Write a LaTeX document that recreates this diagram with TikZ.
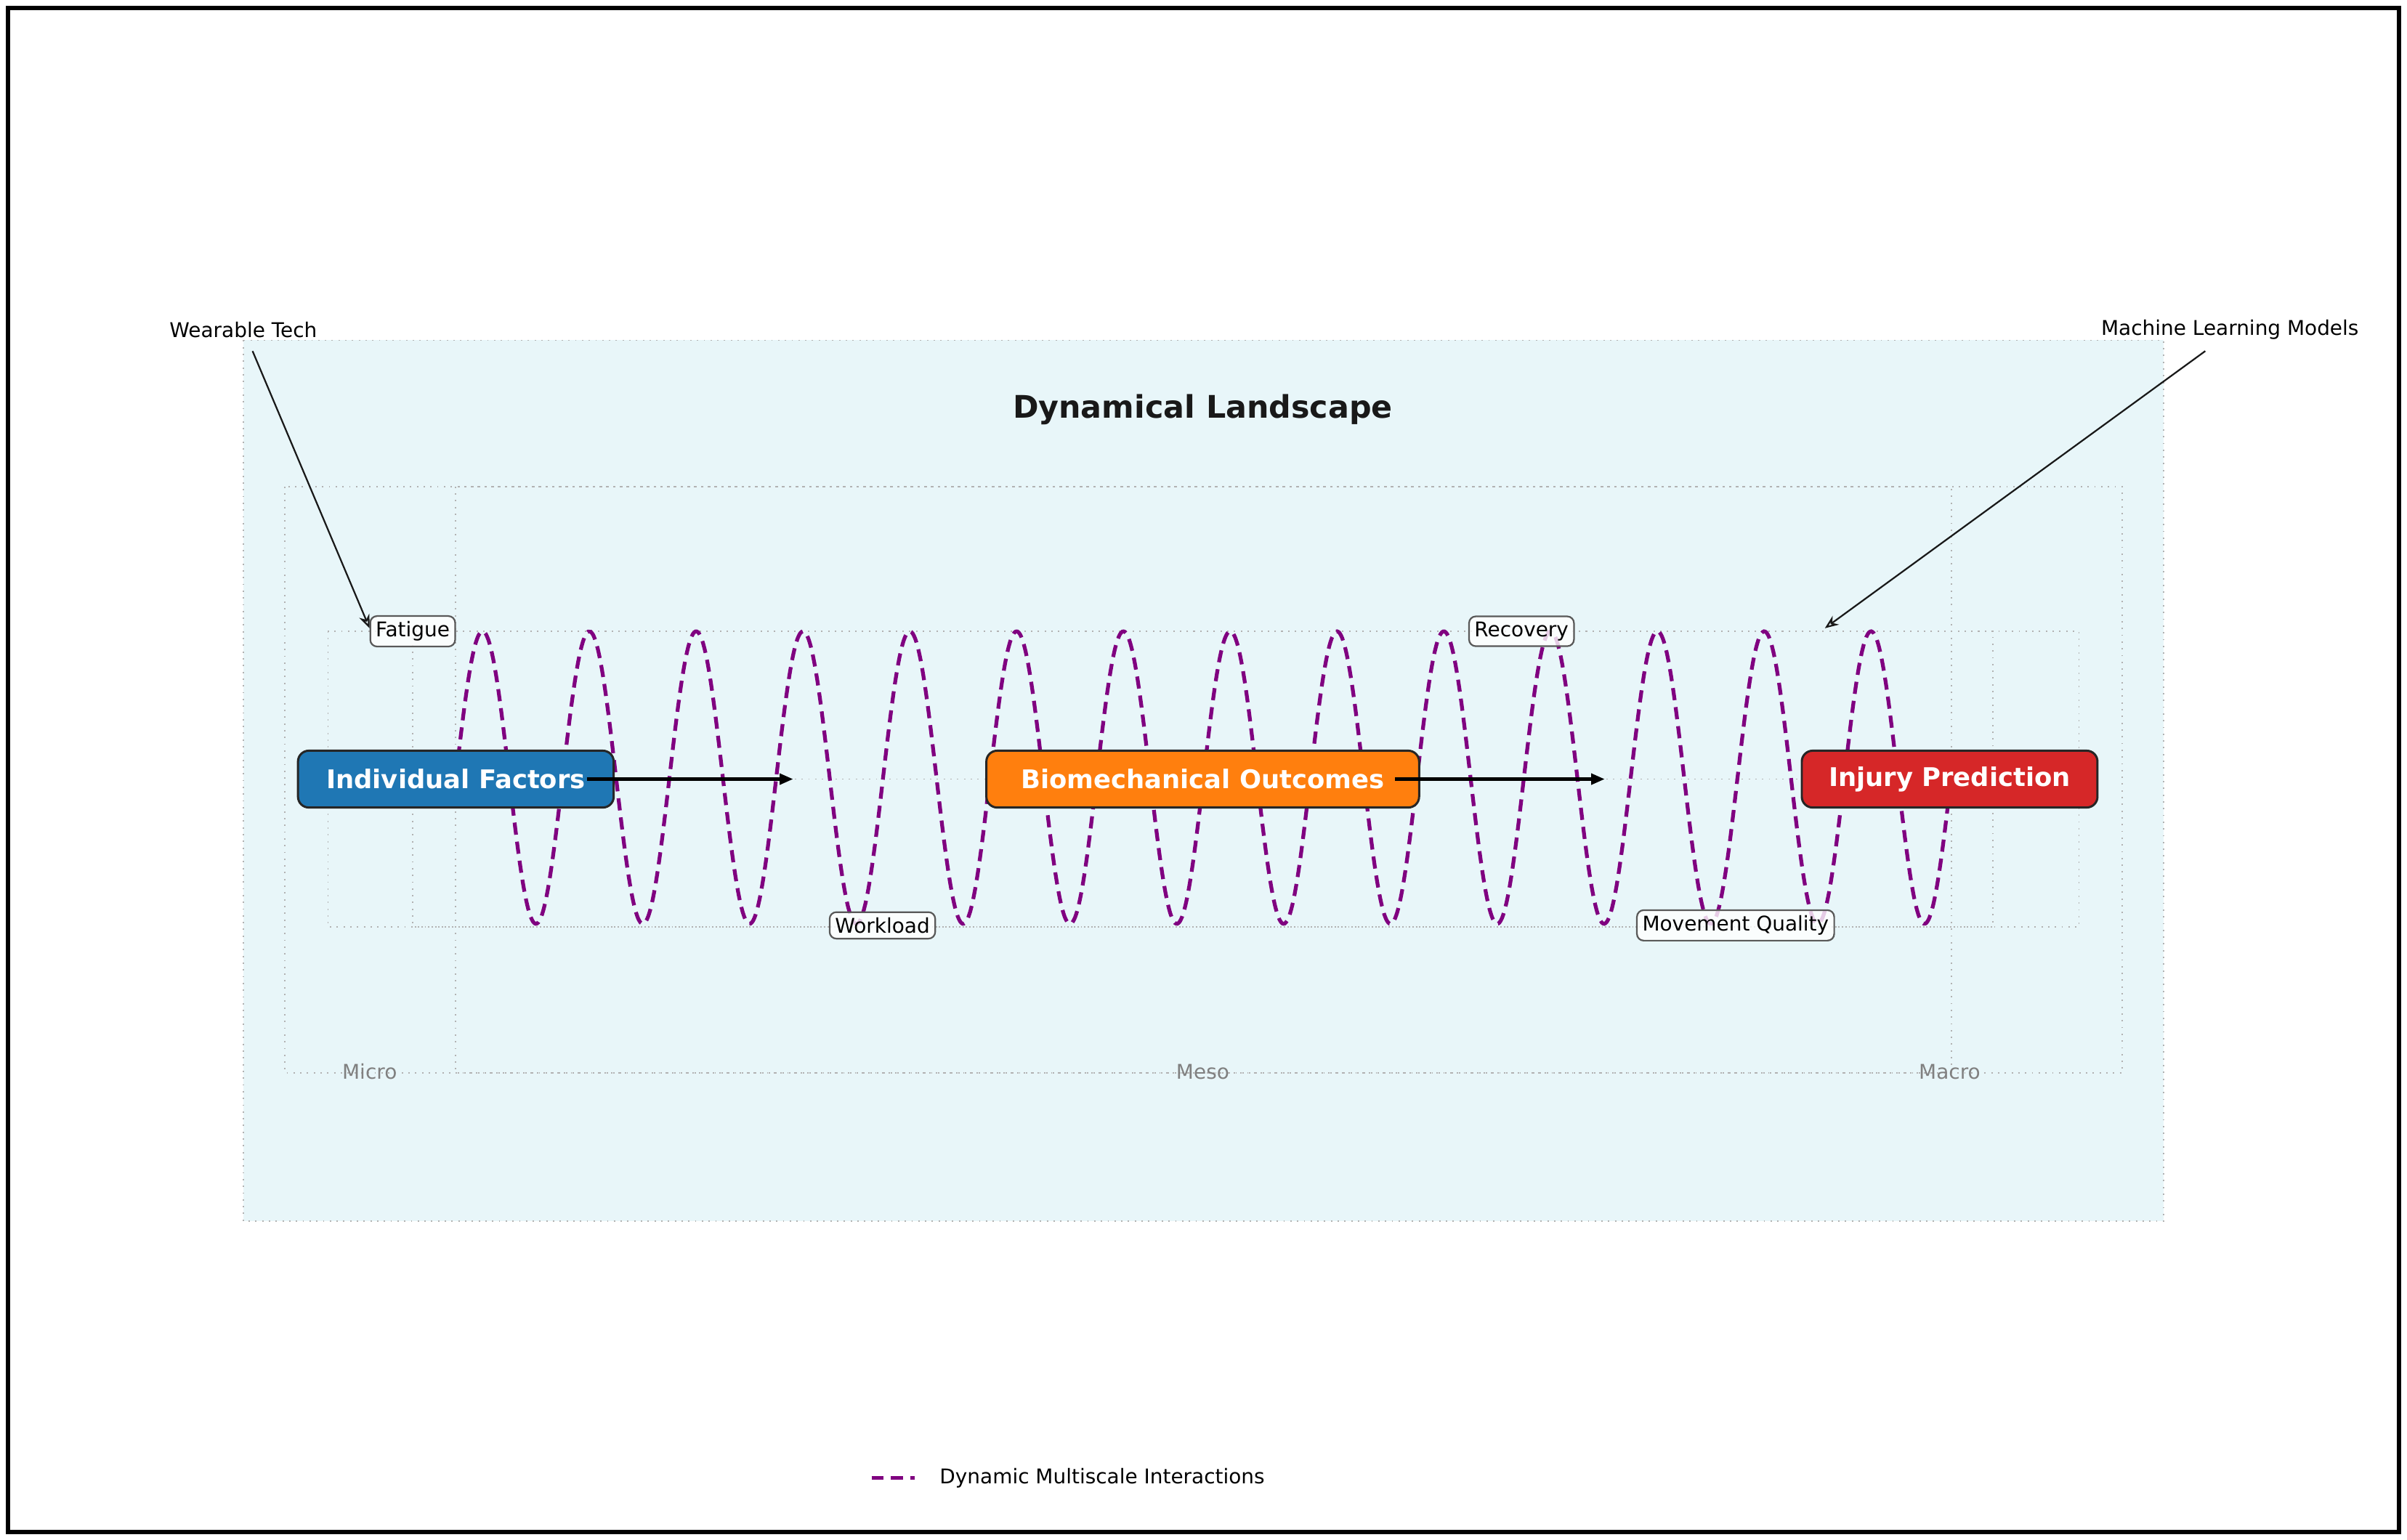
\documentclass[tikz,border=0pt]{standalone}
\usepackage{fontspec}
\setmainfont{DejaVu Sans}
\usetikzlibrary{arrows.meta}
\definecolor{bgc}{HTML}{E8F6F9}
\definecolor{fblue}{HTML}{1F77B4}
\definecolor{forange}{HTML}{FF7F0E}
\definecolor{fred}{HTML}{D62728}
\definecolor{wave}{HTML}{800080}
\begin{document}
\begin{tikzpicture}[x=0.02cm,y=-0.02cm,
  grid/.style={draw=gray!60,dotted,line width=0.5pt},
  main/.style={rounded corners=4pt,draw=black!85,line width=0.8pt,text=white,font=\fontsize{9.5}{11}\selectfont\bfseries,inner xsep=4pt,minimum height=21pt},
  lbl/.style={rounded corners=2.5pt,draw=black!65,fill=white,fill opacity=0.8,text opacity=1,line width=0.6pt,font=\fontsize{7.5}{9}\selectfont,inner sep=2pt},
  scl/.style={text=gray,font=\fontsize{7.5}{9}\selectfont},
  flow/.style={-{Triangle[length=5pt,width=4pt]},line width=1.1pt},
  ann/.style={-{Stealth[length=5pt,width=4pt,open]},line width=0.6pt,black!90}]
\useasboundingbox (0,0) rectangle (1563,1000);
\draw[line width=1.6pt] (5,5) rectangle (1558,995);
\fill[bgc] (158,221) rectangle (1405,793);
\draw[grid] (158,221) rectangle (1405,793);
\node[font=\fontsize{11.5}{13}\selectfont\bfseries,text=black!90] (title) at (781,266) {Dynamical Landscape};
\draw[grid] (185,316) rectangle (1378,697);
\draw[grid] (296,316) rectangle (1267,697);
\draw[grid] (213,410) rectangle (1350,602);
\draw[grid] (268,410) rectangle (1294,602);
\draw[grid] (213,506) -- (1350,506);
\node[scl] (micro) at (240,696) {Micro};
\node[scl] (meso) at (781,696) {Meso};
\node[scl] (macro) at (1266,696) {Macro};
\draw[wave,line width=1.4pt,dash pattern=on 4.5pt off 2.6pt] plot[domain=0:971,samples=600,smooth] ({\x+296},{505-95*sin(5.1906*\x)});
\node[main,fill=fblue,minimum width=205*0.02cm] (ind) at (296,506) {Individual Factors};
\node[main,fill=forange,minimum width=281*0.02cm] (bio) at (781,506) {Biomechanical Outcomes};
\node[main,fill=fred,minimum width=192*0.02cm] (inj) at (1266,506) {Injury Prediction};
\coordinate (a1) at (515,506);
\coordinate (a2) at (1042,506);
\draw[flow] (381,506) -- (a1);
\draw[flow] (906,506) -- (a2);
\node[lbl] (fat) at (268,410) {Fatigue};
\node[lbl] (rec) at (988,410) {Recovery};
\node[lbl] (work) at (573,601) {Workload};
\node[lbl] (mq) at (1127,601) {Movement Quality};
\node[font=\fontsize{7.5}{9}\selectfont] (wt) at (158,214) {Wearable Tech};
\node[font=\fontsize{7.5}{9}\selectfont] (ml) at (1448,214) {Machine Learning Models};
\coordinate (t1) at (240,408);
\coordinate (t2) at (1185,408);
\draw[ann] (164,228) -- (t1);
\draw[ann] (1432,228) -- (t2);
\coordinate (l1) at (566,960);
\coordinate (l2) at (594,960);
\draw[wave,line width=1.4pt,dash pattern=on 4.5pt off 2.6pt] (l1) -- (l2);
\node[anchor=west,font=\fontsize{7.5}{9}\selectfont] (leg) at (604,960) {Dynamic Multiscale Interactions};
\end{tikzpicture}
\end{document}
